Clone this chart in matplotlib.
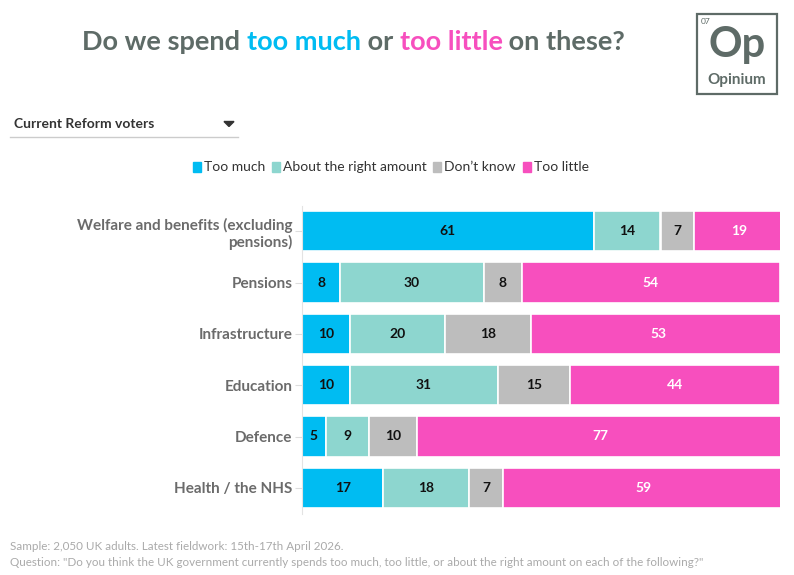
import matplotlib
matplotlib.use("Agg")
import matplotlib.pyplot as plt
from matplotlib.patches import Rectangle
import numpy as np

plt.rcParams['font.family'] = ['Lato', 'DejaVu Sans']

# data
categories = ["Welfare and benefits (excluding\npensions)", "Pensions", "Infrastructure",
              "Education", "Defence", "Health / the NHS"]
series_names = ["Too much", "About the right amount", "Don't know", "Too little"]
too_much = [61, 8, 10, 10, 5, 17]
about_right = [14, 30, 20, 31, 9, 18]
dont_know = [7, 8, 18, 15, 10, 7]
too_little = [19, 54, 53, 44, 77, 59]

colors = ["#00BCF2", "#8DD6CF", "#BDBDBD", "#F74FBE"]
label_colors = ["#111111", "#111111", "#111111", "#FFFFFF"]
grey = "#5E6B67"

W, H = 794, 575
fig = plt.figure(figsize=(W / 100, H / 100), dpi=100)

# bar axes, placed in pixel terms
ax_left, ax_right, ax_top, ax_bot = 302, 780, 205.5, 513.5
ax = fig.add_axes([ax_left / W, 1 - ax_bot / H, (ax_right - ax_left) / W, (ax_bot - ax_top) / H])

values = np.array([too_much, about_right, dont_know, too_little], dtype=float)
y = np.arange(len(categories))

# rows add up to 100-101 from rounding; the axis stops at 100
left = np.zeros(len(categories))
for i, name in enumerate(series_names):
    ax.barh(y, values[i], left=left, height=0.78, color=colors[i],
            edgecolor="white", linewidth=1.2, label=name)
    for j in range(len(categories)):
        ax.text(left[j] + values[i][j] / 2, y[j], str(int(values[i][j])),
                ha="center", va="center", fontsize=10, fontweight="bold",
                color=label_colors[i])
    left += values[i]

ax.set_xlim(0, 100)
ax.set_ylim(len(categories) - 0.5, -0.5)
ax.set_xticks([])
ax.set_yticks(y)
ax.set_yticklabels(categories, fontsize=11, fontweight="bold", color="#6B6B6B",
                   linespacing=1.2)
ax.tick_params(axis="y", length=5, color="#DDDDDD", pad=2)
for s in ["top", "right", "bottom"]:
    ax.spines[s].set_visible(False)
ax.spines["left"].set_color("#E3E3E3")

# title in three colours
fig.canvas.draw()
renderer = fig.canvas.get_renderer()
parts = [("Do we spend ", grey), ("too much", colors[0]), (" or ", grey),
         ("too little", colors[3]), (" on these?", grey)]
tx = 82 / W
for txt, c in parts:
    t = fig.text(tx, 1 - 42 / H, txt, color=c, fontsize=19.5, fontweight="bold",
                 ha="left", va="center")
    bb = t.get_window_extent(renderer)
    tx += bb.width / W

# logo
fig.patches.append(Rectangle((697 / W, 1 - 94 / H), 80 / W, 80 / H, transform=fig.transFigure,
                             fill=False, edgecolor=grey, linewidth=1.6))
fig.text(701 / W, 1 - 21 / H, "07", fontsize=6, color=grey, ha="left", va="center")
fig.text(737 / W, 1 - 45 / H, "Op", fontsize=30, color=grey, ha="center", va="center",
         fontweight="bold")
fig.text(737 / W, 1 - 80 / H, "Opinium", fontsize=11, color=grey, ha="center",
         va="center", fontweight="bold")

# dropdown
fig.text(14 / W, 1 - 124 / H, "Current Reform voters", fontsize=10, fontweight="bold",
         color="#333333", ha="left", va="center")
fig.patches.append(plt.Polygon([[224 / W, 1 - 121.5 / H], [234 / W, 1 - 121.5 / H],
                                [229 / W, 1 - 126.5 / H]], closed=True,
                               transform=fig.transFigure, color="#333333"))
fig.add_artist(plt.Line2D([10 / W, 238 / W], [1 - 137 / H, 1 - 137 / H],
                          color="#CCCCCC", linewidth=1))

# legend
legend_pos = [193, 272, 433, 523]
for x0, name, c in zip(legend_pos, series_names, colors):
    fig.patches.append(Rectangle((x0 / W, 1 - 171.5 / H), 8 / W, 9 / H,
                                 transform=fig.transFigure, color=c))
    fig.text((x0 + 11) / W, 1 - 167 / H, name.replace("'", "\u2019"), fontsize=10,
             color="#333333", ha="left", va="center")

# footer
fig.text(10 / W, 1 - 546 / H, "Sample: 2,050 UK adults. Latest fieldwork: 15th-17th April 2026.",
         fontsize=8.4, color="#AAAAAA", ha="left", va="center")
fig.text(10 / W, 1 - 562 / H,
         "Question: \"Do you think the UK government currently spends too much, too little, "
         "or about the right amount on each of the following?\"",
         fontsize=8.4, color="#AAAAAA", ha="left", va="center")

fig.savefig("out.png", dpi=100, facecolor="white")
